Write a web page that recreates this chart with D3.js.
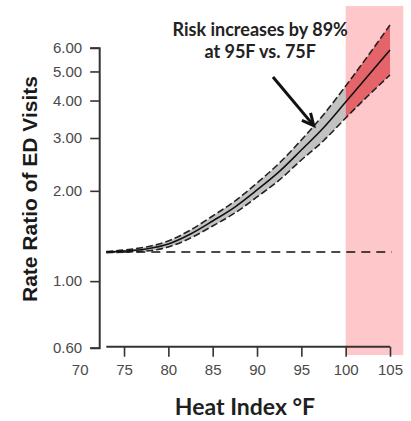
<!DOCTYPE html>
<html>
<head>
<meta charset="utf-8">
<script src="https://cdn.jsdelivr.net/npm/d3@7"></script>
<style>
  html, body { margin: 0; padding: 0; background: #fff; }
  svg { display: block; }
</style>
</head>
<body>
<div id="chart"></div>
<script>
// Heat index (°F) vs rate ratio of ED visits, with 95% band
const heatIndex = [73, 75, 77.5, 80, 82.5, 85, 87.5, 90, 92.5, 95, 97.5, 100, 102.5, 105];
const rateRatio = [1.250, 1.260, 1.280, 1.330, 1.436, 1.587, 1.766, 2.013, 2.317, 2.736, 3.247, 3.955, 4.828, 5.895];
const upperCI   = [1.255, 1.270, 1.300, 1.361, 1.481, 1.649, 1.849, 2.124, 2.473, 2.954, 3.588, 4.472, 5.629, 7.142];
const lowerCI   = [1.245, 1.250, 1.260, 1.300, 1.393, 1.527, 1.687, 1.908, 2.171, 2.534, 2.938, 3.498, 4.141, 4.866];

const xTicks = [70, 75, 80, 85, 90, 95, 100, 105];
const yTicks = [0.6, 1, 2, 3, 4, 5, 6];
const refRatio = 1.25;          // dashed reference level
const hotZoneX = [100, 106.5];  // shaded extreme-heat zone
const hotZoneY = [0.567, 8.26];
const noteLines = ['Risk increases by 89%', 'at 95F vs. 75F'];

(function () {
  const W = 411, H = 421;
  const svg = d3.select('#chart').append('svg')
    .attr('width', W).attr('height', H)
    .attr('viewBox', `0 0 ${W} ${H}`);

  const x = d3.scaleLinear().domain([70, 105]).range([79.7, 390]);
  const y = d3.scaleLog().domain([0.6, 6]).range([347.7, 47.7]);
  const yAxisAt = 72.2;  // heat index where the y axis sits

  const rows = heatIndex.map((h, i) => ({ h, v: rateRatio[i], lo: lowerCI[i], hi: upperCI[i] }));

  // Pink shaded zone (behind everything)
  svg.append('rect')
    .attr('x', x(hotZoneX[0])).attr('y', y(hotZoneY[1]))
    .attr('width', x(hotZoneX[1]) - x(hotZoneX[0]))
    .attr('height', y(hotZoneY[0]) - y(hotZoneY[1]))
    .attr('fill', '#fec8cb');

  const area = d3.area()
    .x(d => x(d.h)).y0(d => y(d.lo)).y1(d => y(d.hi))
    .curve(d3.curveMonotoneX);

  svg.append('path')
    .datum(rows.filter(d => d.h <= 100))
    .attr('d', area)
    .attr('fill', '#c2c2c2');

  svg.append('path')
    .datum(rows.filter(d => d.h >= 100))
    .attr('d', area)
    .attr('fill', '#e4646a');

  // Reference line
  svg.append('line')
    .attr('x1', x(heatIndex[0])).attr('x2', x(105.2))
    .attr('y1', y(refRatio)).attr('y2', y(refRatio))
    .attr('stroke', '#111').attr('stroke-width', 1.6)
    .attr('stroke-dasharray', '9,6');

  const mkLine = key => d3.line()
    .x(d => x(d.h)).y(d => y(d[key]))
    .curve(d3.curveMonotoneX);

  ['lo', 'hi'].forEach(k => {
    svg.append('path')
      .datum(rows)
      .attr('d', mkLine(k))
      .attr('fill', 'none')
      .attr('stroke', '#222').attr('stroke-width', 1.6)
      .attr('stroke-dasharray', '7,3');
  });

  svg.append('path')
    .datum(rows)
    .attr('d', mkLine('v'))
    .attr('fill', 'none')
    .attr('stroke', '#111').attr('stroke-width', 1.6);

  // X axis
  const gx = svg.append('g')
    .attr('transform', `translate(0,${y(0.6) - 1})`)
    .call(d3.axisBottom(x).tickValues(xTicks).tickSize(10).tickPadding(8));
  gx.select('.domain').remove();
  gx.selectAll('.tick').filter(d => d === 70).select('line').remove();
  gx.append('line')
    .attr('x1', x(heatIndex[0])).attr('x2', x(105))
    .attr('stroke', '#333').attr('stroke-width', 2);
  gx.selectAll('.tick line').attr('stroke', '#333').attr('stroke-width', 1.6);
  gx.selectAll('.tick text')
    .style('font-family', 'Liberation Sans, Arial, sans-serif')
    .style('font-size', '15px')
    .style('fill', '#4a4a4a');

  // Y axis
  const gy = svg.append('g')
    .attr('transform', `translate(${x(yAxisAt)},0)`)
    .call(d3.axisLeft(y).tickValues(yTicks).tickFormat(d3.format('.2f')).tickSize(9).tickPadding(8));
  gy.select('.domain').attr('stroke', '#333').attr('stroke-width', 2);
  gy.selectAll('.tick line').attr('stroke', '#333').attr('stroke-width', 1.6);
  gy.selectAll('.tick text')
    .style('font-family', 'Liberation Sans, Arial, sans-serif')
    .style('font-size', '15px')
    .style('fill', '#4a4a4a');

  // Axis titles
  svg.append('text')
    .attr('transform', 'translate(37,189) rotate(-90)')
    .attr('text-anchor', 'middle')
    .style('font-family', 'Liberation Sans, Arial, sans-serif')
    .style('font-weight', 'bold')
    .style('font-size', '21px')
    .style('fill', '#1a1a1a')
    .text('Rate Ratio of ED Visits');

  svg.append('text')
    .attr('x', 245).attr('y', 415)
    .attr('text-anchor', 'middle')
    .style('font-family', 'Lato, Open Sans, sans-serif')
    .style('font-weight', 'bold')
    .style('font-size', '23px')
    .style('fill', '#1f1f1f')
    .text('Heat Index °F');

  // Annotation
  const note = svg.append('text')
    .attr('text-anchor', 'middle')
    .style('font-family', 'Lato, Open Sans, sans-serif')
    .style('font-weight', 'bold')
    .style('font-size', '18px')
    .style('fill', '#222');
  note.selectAll('tspan')
    .data(noteLines)
    .enter()
    .append('tspan')
    .attr('x', x(90.36))
    .attr('y', (d, i) => y([6.56, 5.54][i]))
    .text(d => d);

  // Arrow pointing at the band
  const a0 = [x(91.8), y(4.79)], a1 = [x(96.4), y(3.3)];
  svg.append('line')
    .attr('x1', a0[0]).attr('y1', a0[1]).attr('x2', a1[0]).attr('y2', a1[1])
    .attr('stroke', '#111').attr('stroke-width', 3);
  const ang = Math.atan2(a1[1] - a0[1], a1[0] - a0[0]);
  const hl = 13, spread = 0.45;
  svg.append('path')
    .attr('d', `M${a1[0] - hl * Math.cos(ang - spread)},${a1[1] - hl * Math.sin(ang - spread)}` +
               `L${a1[0]},${a1[1]}` +
               `L${a1[0] - hl * Math.cos(ang + spread)},${a1[1] - hl * Math.sin(ang + spread)}`)
    .attr('fill', 'none')
    .attr('stroke', '#111').attr('stroke-width', 3)
    .attr('stroke-linejoin', 'miter');
})();
</script>
</body>
</html>
